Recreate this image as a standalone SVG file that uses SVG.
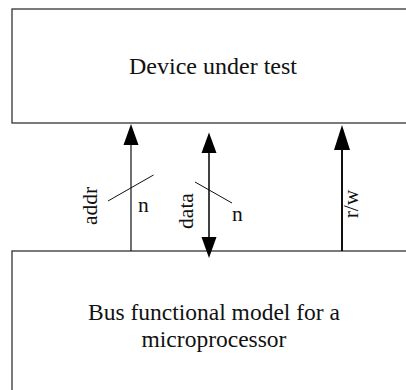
<svg xmlns="http://www.w3.org/2000/svg" width="406" height="390" viewBox="0 0 406 390">
<style>
.box{fill:#fff;stroke:#222;stroke-width:1.2}
.t{font-family:"Liberation Serif","Times New Roman",serif;font-size:24px;fill:#111;text-anchor:middle}
.t2{font-size:23.5px}
.lbl{font-family:"Liberation Serif","Times New Roman",serif;font-size:21.5px;fill:#111}
.w{stroke:#111;fill:none}
.ah{fill:#000}
</style>
<g id="dut">
<rect class="box" x="12" y="9" width="420" height="114"/>
<text class="t" x="213" y="74">Device under test</text>
</g>
<g id="bfm">
<rect class="box" x="12" y="251" width="420" height="160"/>
<text class="t t2" x="214" y="320">Bus functional model for a</text>
<text class="t t2" x="214" y="347">microprocessor</text>
</g>
<g id="connectors">
<line class="w" x1="131" y1="251" x2="131" y2="145" stroke-width="1.2"/>
<polygon class="ah" points="131,124 123.5,145 138.5,145"/>
<line class="w" x1="209" y1="152" x2="209" y2="237" stroke-width="1.6"/>
<polygon class="ah" points="209,132.5 201.5,153 216.5,153"/>
<polygon class="ah" points="209,258 201.5,237 216.5,237"/>
<line class="w" x1="342" y1="251" x2="342" y2="149" stroke-width="2"/>
<polygon class="ah" points="342,125 334,150 350,150"/>
<line class="w" x1="108" y1="201" x2="153.5" y2="175" stroke-width="1"/>
<line class="w" x1="195" y1="182" x2="232" y2="203" stroke-width="1"/>
<text class="lbl" transform="translate(97,206) rotate(-90)" text-anchor="middle">addr</text>
<text class="lbl" x="138" y="212">n</text>
<text class="lbl" transform="translate(193,211) rotate(-90)" text-anchor="middle">data</text>
<text class="lbl" x="232" y="221">n</text>
<text class="lbl" transform="translate(358,204) rotate(-90)" text-anchor="middle">r/w</text>
</g>
</svg>
